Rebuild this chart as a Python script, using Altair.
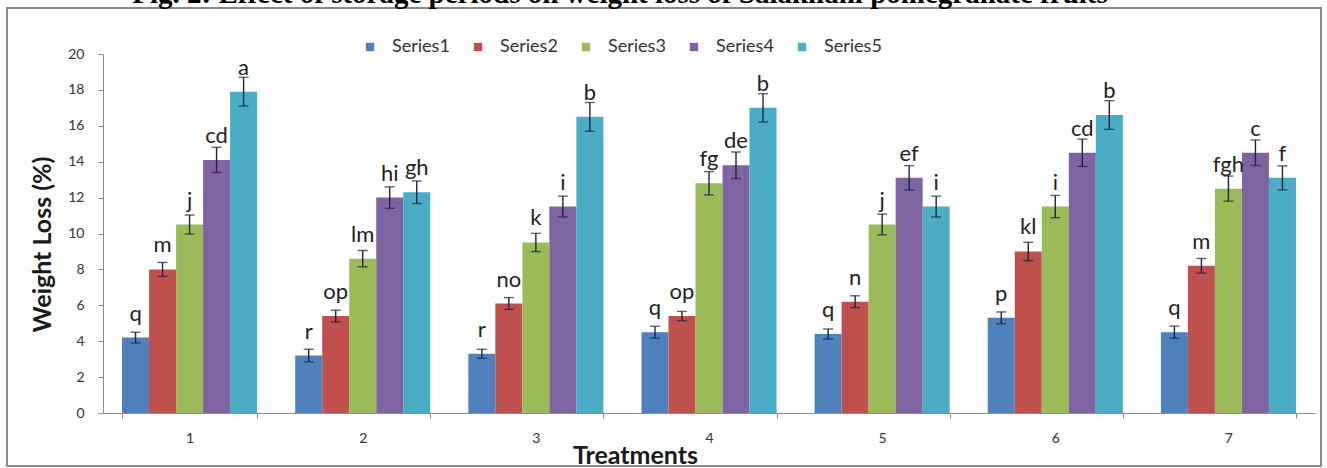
import altair as alt
import pandas as pd

# Treatments on the x axis and the five storage-period series
treatments = ["1", "2", "3", "4", "5", "6", "7"]
series_names = ["Series1", "Series2", "Series3", "Series4", "Series5"]
series_colors = ["#4F81BD", "#C0504D", "#9BBB59", "#8064A2", "#4BACC6"]

# Mean weight loss (%) per treatment
series1 = [4.2, 3.2, 3.3, 4.5, 4.4, 5.3, 4.5]
series2 = [8.0, 5.4, 6.1, 5.4, 6.2, 9.0, 8.2]
series3 = [10.5, 8.6, 9.5, 12.8, 10.5, 11.5, 12.5]
series4 = [14.1, 12.0, 11.5, 13.8, 13.1, 14.5, 14.5]
series5 = [17.9, 12.3, 16.5, 17.0, 11.5, 16.6, 13.1]

# Error bar half-widths
err1 = [0.30, 0.35, 0.25, 0.33, 0.28, 0.33, 0.34]
err2 = [0.39, 0.33, 0.33, 0.26, 0.33, 0.51, 0.41]
err3 = [0.53, 0.45, 0.51, 0.65, 0.58, 0.62, 0.70]
err4 = [0.70, 0.60, 0.58, 0.74, 0.68, 0.76, 0.71]
err5 = [0.80, 0.63, 0.80, 0.79, 0.58, 0.80, 0.67]

# Significance letters (DMRT)
let1 = ["q", "r", "r", "q", "q", "p", "q"]
let2 = ["m", "op", "no", "op", "n", "kl", "m"]
let3 = ["j", "lm", "k", "fg", "j", "i", "fgh"]
let4 = ["cd", "hi", "i", "de", "ef", "cd", "c"]
let5 = ["a", "gh", "b", "b", "i", "b", "f"]

values = [series1, series2, series3, series4, series5]
errors = [err1, err2, err3, err4, err5]
letters = [let1, let2, let3, let4, let5]

rows = []
for s, name in enumerate(series_names):
    for t, trt in enumerate(treatments):
        v = values[s][t]
        e = errors[s][t]
        rows.append({
            "Treatment": trt,
            "Series": name,
            "Value": v,
            "Lo": v - e,
            "Hi": v + e,
            "Letter": letters[s][t],
        })
df = pd.DataFrame(rows)

FONT = "Lato"
AXIS_GREY = "#8C8C8C"

x_enc = alt.X(
    "Treatment:N",
    sort=treatments,
    scale=alt.Scale(paddingInner=0.22, paddingOuter=0.11),
    axis=alt.Axis(
        title="Treatments",
        labelAngle=0,
        tickBand="extent",
        tickSize=5,
        tickColor=AXIS_GREY,
        domainColor=AXIS_GREY,
        labelFontSize=14,
        labelColor="#333333",
        labelFont=FONT,
        labelPadding=13,
        titleFont=FONT,
        titleFontSize=25,
        titleFontWeight="bold",
        titleColor="#1a1a1a",
        titleX=532,
        titleY=50,
        titleAlign="center",
        titleBaseline="alphabetic",
    ),
)
xo_enc = alt.XOffset(
    "Series:N", sort=series_names, scale=alt.Scale(paddingInner=0, paddingOuter=0)
)

y_scale = alt.Scale(domain=[0, 20], nice=False)
y_axis = alt.Axis(
    title="Weight Loss (%)",
    values=list(range(0, 21, 2)),
    grid=False,
    tickSize=5,
    tickColor=AXIS_GREY,
    domainColor=AXIS_GREY,
    labelFontSize=14,
    labelColor="#333333",
    labelFont=FONT,
    labelPadding=14,
    titleFont=FONT,
    titleFontSize=25,
    titleFontWeight="bold",
    titleColor="#1a1a1a",
    titleX=-53,
    titleY=190,
    titleAlign="center",
    titleBaseline="alphabetic",
)


def y_of(field):
    return alt.Y(f"{field}:Q", scale=y_scale, axis=y_axis, title="Weight Loss (%)")


base = alt.Chart(df).encode(x=x_enc, xOffset=xo_enc)

bars = base.mark_bar().encode(
    y=y_of("Value"),
    color=alt.Color(
        "Series:N",
        sort=series_names,
        scale=alt.Scale(domain=series_names, range=series_colors),
        legend=alt.Legend(
            title=None,
            orient="none",
            direction="horizontal",
            legendX=258,
            legendY=-16,
            symbolType="square",
            symbolSize=70,
            symbolStrokeWidth=0,
            labelFont=FONT,
            labelFontSize=18,
            labelColor="#333333",
            labelOffset=13,
            columnPadding=19,
        ),
    ),
)

ERR_COLOR = "#1b2540"

err_rules = base.mark_rule(color=ERR_COLOR, strokeWidth=1.4).encode(
    y=y_of("Lo"), y2="Hi:Q"
)
cap_hi = base.mark_tick(color=ERR_COLOR, size=10, thickness=1.4).encode(y=y_of("Hi"))
cap_lo = base.mark_tick(color=ERR_COLOR, size=10, thickness=1.4).encode(y=y_of("Lo"))

labels = base.mark_text(
    font=FONT, fontSize=22, color="#222222", baseline="alphabetic", dy=-17
).encode(y=y_of("Value"), text="Letter:N")

frame_df = pd.DataFrame({"k": [0]})
frame = alt.Chart(frame_df).mark_rect(
    fill=None, stroke="#8a8a8a", strokeWidth=2
).encode(
    x=alt.value(-96), x2=alt.value(1218), y=alt.value(-46), y2=alt.value(412)
)

heading = alt.Chart(frame_df).mark_text(
    text="Fig. 2: Effect of storage periods on weight loss of Salakhani pomegranate fruits",
    font="Liberation Serif",
    fontSize=29,
    fontWeight="bold",
    color="#000000",
    align="center",
    baseline="alphabetic",
).encode(x=alt.value(517), y=alt.value(-51))

chart = (
    alt.layer(frame, heading, bars, err_rules, cap_hi, cap_lo, labels)
    .properties(
        width=1212,
        height=359,
        padding={"left": 103, "top": 54, "right": 12, "bottom": 55},
        autosize=alt.AutoSizeParams(type="none"),
        background="#ffffff",
    )
    .configure_view(stroke=None)
)

chart.save("out.html", embed_options={"renderer": "svg", "actions": False})
